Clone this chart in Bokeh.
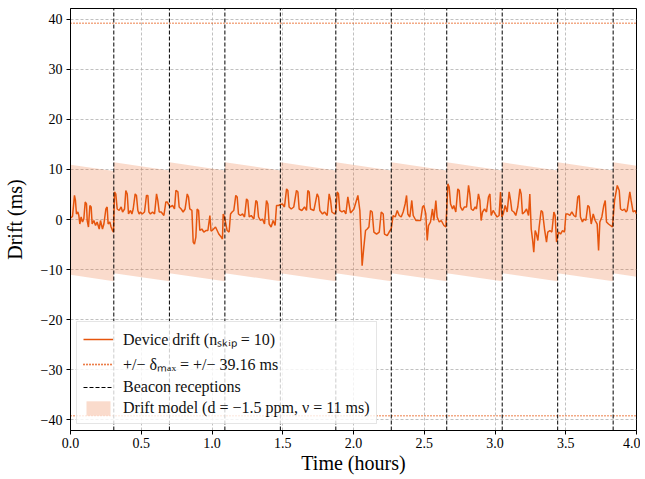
from bokeh.plotting import figure
from bokeh.models import FixedTicker, Legend, LegendItem, NumeralTickFormatter
from bokeh.embed import file_html
from bokeh.resources import INLINE

# ---------------- data ----------------
# device drift (ms) vs time (hours), one list pair per beacon interval
t_seg0 = [0.000, 0.014, 0.028, 0.035, 0.042, 0.052, 0.059, 0.066, 0.075, 0.085,
          0.094, 0.104, 0.113, 0.118, 0.127, 0.137, 0.146, 0.153, 0.165, 0.177,
          0.188, 0.203, 0.212, 0.226, 0.236, 0.250, 0.259, 0.266, 0.278, 0.287,
          0.297, 0.304]
d_seg0 = [0.3, 0.6, 4.8, 3.8, 1.1, 1.5, 0.8, -0.9, 0.5, -0.5,
          0.1, 3.5, 3.1, -0.2, -1.5, 2.8, 2.5, -0.9, -0.2, -1.2,
          -0.5, -1.9, -0.2, -1.9, -0.9, 2.1, 2.5, -0.9, -0.5, -1.5,
          -2.2, -2.5]

t_seg1 = [0.311, 0.320, 0.330, 0.344, 0.358, 0.368, 0.382, 0.391, 0.401, 0.410,
          0.424, 0.434, 0.443, 0.457, 0.466, 0.476, 0.485, 0.495, 0.507, 0.523,
          0.537, 0.547, 0.554, 0.565, 0.580, 0.594, 0.608, 0.617, 0.627, 0.641,
          0.660, 0.674, 0.683, 0.697]
d_seg1 = [5.5, 5.1, 2.1, 1.8, 2.5, 1.5, 2.1, 5.8, 5.1, 1.1,
          1.8, 1.1, 2.1, 5.1, 4.8, 1.8, 1.1, 1.5, 1.1, 1.5,
          4.8, 4.8, 1.5, 1.1, 1.5, 1.1, 5.1, 3.8, 1.5, 1.5,
          0.8, 3.5, 3.5, 2.8]

t_seg2 = [0.707, 0.721, 0.735, 0.745, 0.759, 0.768, 0.782, 0.796, 0.810, 0.825,
          0.834, 0.843, 0.858, 0.867, 0.876, 0.886, 0.895, 0.905, 0.914, 0.928,
          0.942, 0.957, 0.971, 0.985, 0.993, 1.001, 1.025, 1.048, 1.065, 1.074,
          1.079, 1.088]
d_seg2 = [2.5, 2.8, 2.1, 5.8, 5.5, 2.5, 2.1, 1.5, 2.1, 5.1,
          4.5, 2.1, 1.8, -4.5, -4.9, -3.5, 2.1, 1.8, -2.2, -1.9,
          -2.5, -2.2, -2.2, 0.8, -2.3, -2.2, -1.5, -2.9, -3.5, -3.9,
          1.1, 0.5]

t_seg3 = [1.107, 1.121, 1.131, 1.142, 1.154, 1.168, 1.178, 1.187, 1.201, 1.216,
          1.230, 1.244, 1.253, 1.263, 1.277, 1.296, 1.310, 1.319, 1.329, 1.343,
          1.357, 1.371, 1.385, 1.395, 1.404, 1.418, 1.432, 1.446, 1.456, 1.470]
d_seg3 = [-2.2, -2.5, 1.1, 1.5, 1.8, 4.8, 4.5, 1.1, 0.8, 1.1,
          0.5, 4.1, 3.8, 0.5, 0.8, 0.1, 3.8, 3.5, 0.5, -0.2,
          0.1, -0.9, 3.8, 3.1, -0.9, -1.5, -0.2, -1.2, 2.8, 2.8]

t_seg4 = [1.484, 1.498, 1.512, 1.527, 1.536, 1.545, 1.560, 1.578, 1.597, 1.607,
          1.616, 1.635, 1.654, 1.668, 1.677, 1.687, 1.696, 1.720, 1.743, 1.753,
          1.762, 1.781, 1.795, 1.814, 1.828, 1.838, 1.847, 1.866]
d_seg4 = [3.0, 3.1, 2.5, 6.1, 5.8, 2.5, 2.1, 2.5, 5.8, 5.5,
          2.1, 1.8, 2.5, 1.8, 5.8, 5.5, 2.1, 1.8, 5.1, 4.5,
          1.8, 1.1, 1.5, 0.8, 5.1, 3.8, 1.5, 1.1]

t_seg5 = [1.875, 1.885, 1.894, 1.903, 1.918, 1.932, 1.946, 1.960, 1.979, 2.003,
          2.031, 2.045, 2.054, 2.061, 2.073, 2.085, 2.097, 2.109, 2.120, 2.132,
          2.144, 2.163, 2.182, 2.196, 2.210, 2.219, 2.238, 2.252, 2.266]
d_seg5 = [1.5, 5.5, 5.1, 1.8, 1.5, 1.8, 1.1, 4.5, 1.3, 2.1,
          4.8, 1.8, -4.2, -9.2, -5.5, -2.2, -1.9, -1.5, 1.8, 1.5,
          -2.5, -2.9, -2.5, 1.5, 1.1, -2.9, -3.2, -2.5, -1.9]

t_seg6 = [2.280, 2.295, 2.309, 2.323, 2.337, 2.351, 2.365, 2.375, 2.384, 2.398,
          2.412, 2.422, 2.441, 2.460, 2.474, 2.488, 2.497, 2.511, 2.521, 2.530,
          2.544, 2.558, 2.568, 2.582, 2.591, 2.606, 2.620, 2.639, 2.653]
d_seg6 = [0.8, 0.5, 1.8, 0.8, 0.5, 1.5, 3.1, 4.8, 1.1, 0.5,
          3.8, 0.8, -0.2, -0.2, -0.2, 2.5, 2.8, 1.1, -4.2, -1.2,
          -0.5, 2.1, -0.2, 3.8, 0.5, -0.5, -0.2, -1.2, -1.5]

t_seg7 = [2.667, 2.676, 2.686, 2.700, 2.709, 2.723, 2.737, 2.747, 2.756, 2.770,
          2.784, 2.799, 2.813, 2.822, 2.832, 2.846, 2.860, 2.869, 2.883, 2.893,
          2.902, 2.912, 2.926, 2.940, 2.954, 2.964, 2.973, 2.987, 3.001, 3.015,
          3.029, 3.039, 3.048]
d_seg7 = [7.1, 6.5, 3.1, 2.1, 2.8, 1.5, 6.1, 5.8, 2.5, 1.8,
          2.5, 2.5, 6.8, 5.1, 2.1, 1.8, 2.5, 2.1, 5.1, 3.8,
          -0.2, 1.5, 2.1, 1.5, 4.5, 5.1, 0.8, 1.8, 1.1, 0.5,
          0.8, 5.5, 0.5]

t_seg8 = [3.058, 3.072, 3.086, 3.100, 3.110, 3.119, 3.133, 3.147, 3.161, 3.176,
          3.185, 3.194, 3.209, 3.223, 3.237, 3.246, 3.256, 3.265, 3.274, 3.284,
          3.293, 3.303, 3.312, 3.326, 3.336, 3.350, 3.364, 3.373, 3.388, 3.402,
          3.416, 3.425, 3.435]
d_seg8 = [1.1, 2.8, 1.5, 5.5, 3.8, 1.8, 1.5, 0.8, 2.5, 6.1,
          5.1, 1.1, 1.5, 2.1, 0.8, 5.1, -1.9, -3.9, -6.5, -2.2,
          -2.9, -4.2, -1.5, 1.8, 1.5, -1.9, -4.5, -2.5, -2.2, -2.5,
          1.5, 0.8, -4.5]

t_seg9 = [3.449, 3.463, 3.477, 3.491, 3.501, 3.515, 3.529, 3.543, 3.557, 3.571,
          3.585, 3.595, 3.604, 3.618, 3.628, 3.642, 3.656, 3.666, 3.680, 3.694,
          3.708, 3.722, 3.732, 3.741, 3.755, 3.769, 3.779, 3.788, 3.802, 3.816,
          3.830]
d_seg9 = [-2.5, -2.9, -2.2, -2.5, 1.1, 1.1, 0.8, 1.5, 0.8, 0.5,
          4.5, 4.8, 0.5, -0.5, 0.1, -0.2, 2.8, 2.5, -0.9, 1.1,
          -0.2, -0.9, -6.2, -0.5, 0.5, 2.8, 3.8, -0.5, -0.9, -1.2,
          -1.5]

t_seg10 = [3.845, 3.864, 3.878, 3.887, 3.901, 3.915, 3.925, 3.934, 3.953, 3.962,
           3.976, 3.990, 4.000]
d_seg10 = [3.8, 6.8, 5.8, 2.1, 1.8, 2.1, 1.5, 1.8, 5.5, 3.8,
           1.5, 1.8, 1.1]

# beacon reception times (hours)
beacon_h = [0.306, 0.699, 1.091, 1.483, 1.875, 2.267, 2.659, 3.051, 3.443, 3.835]
t_end_h = 4.0

# drift model band per beacon interval (ms at interval start / end)
band_top_start = [10.9, 11.4, 11.4, 11.4, 11.4, 11.4, 11.4, 11.4, 11.4, 11.4, 11.4]
band_top_end = [9.7, 9.8, 9.8, 9.8, 9.8, 9.8, 9.8, 9.8, 9.8, 9.8, 10.7]
band_bot_start = [-11.0, -10.7, -10.7, -10.7, -10.7, -10.7, -10.7, -10.7, -10.7, -10.7, -10.7]
band_bot_end = [-12.3, -12.3, -12.3, -12.3, -12.3, -12.3, -12.3, -12.3, -12.3, -12.3, -11.4]

delta_max_ms = 39.16
y_limit = 42.1

x_ticks = [0.0, 0.5, 1.0, 1.5, 2.0, 2.5, 3.0, 3.5, 4.0]
y_ticks = [-40, -30, -20, -10, 0, 10, 20, 30, 40]
y_tick_labels = ["\u221240", "\u221230", "\u221220", "\u221210", "0", "10", "20", "30", "40"]

legend_labels = [
    "Device drift (n\u209b\u2096\u1d62\u209a = 10)",
    "+/\u2212 \u03b4\u2098\u2090\u2093 = +/\u2212 39.16 ms",
    "Beacon receptions",
    "Drift model (d = \u22121.5 ppm, \u03bd = 11 ms)",
]

# ---------------- assemble ----------------
t_all = (t_seg0 + t_seg1 + t_seg2 + t_seg3 + t_seg4 + t_seg5 + t_seg6 + t_seg7
         + t_seg8 + t_seg9 + t_seg10)
d_all = (d_seg0 + d_seg1 + d_seg2 + d_seg3 + d_seg4 + d_seg5 + d_seg6 + d_seg7
         + d_seg8 + d_seg9 + d_seg10)

seg_start = [0.0] + beacon_h
seg_end = beacon_h + [t_end_h]
band_x, band_lo, band_hi = [], [], []
for s, e, ts, te, bs, be in zip(seg_start, seg_end, band_top_start, band_top_end,
                                band_bot_start, band_bot_end):
    band_x += [s, e]
    band_hi += [ts, te]
    band_lo += [bs, be]

ORANGE = "#e6550d"
FONT = "Liberation Serif"

p = figure(width=640, height=476, x_range=(0, t_end_h), y_range=(-y_limit, y_limit),
           output_backend="svg", toolbar_location=None,
           min_border_left=70, min_border_right=4, min_border_top=8, min_border_bottom=46)

p.background_fill_color = "white"
p.border_fill_color = "white"
p.outline_line_color = "black"
p.outline_line_width = 1
p.outline_line_alpha = 1

band_r = p.varea(x=band_x, y1=band_lo, y2=band_hi, fill_color=ORANGE, fill_alpha=0.21)
drift_r = p.line(t_all, d_all, line_color=ORANGE, line_width=1.5)
up_r = p.line([0, t_end_h], [delta_max_ms, delta_max_ms], line_color=ORANGE,
              line_width=1.4, line_dash="1 2")
lo_r = p.line([0, t_end_h], [-delta_max_ms, -delta_max_ms], line_color=ORANGE,
              line_width=1.4, line_dash="1 2")
beacon_r = p.segment(x0=beacon_h, y0=[-y_limit] * len(beacon_h),
                     x1=beacon_h, y1=[y_limit] * len(beacon_h),
                     line_color="black", line_width=1, line_dash="4 2")

# axes / grid
p.xaxis.ticker = FixedTicker(ticks=x_ticks)
p.yaxis.ticker = FixedTicker(ticks=y_ticks)
p.xaxis.formatter = NumeralTickFormatter(format="0.0")
p.yaxis.major_label_overrides = {v: s for v, s in zip(y_ticks, y_tick_labels)}
for ax in (p.xaxis, p.yaxis):
    ax.minor_tick_line_color = None
    ax.major_tick_in = 0
    ax.major_tick_out = 4
    ax.major_tick_line_color = "black"
    ax.axis_line_color = "black"
    ax.major_label_text_font = FONT
    ax.major_label_text_font_size = "14px"
    ax.major_label_text_color = "black"
    ax.axis_label_text_font = FONT
    ax.axis_label_text_font_size = "20px"
    ax.axis_label_text_font_style = "normal"
    ax.axis_label_text_color = "black"
    ax.major_label_standoff = 4
p.xaxis.major_label_standoff = 3
p.xaxis.axis_label = "Time (hours)"
p.yaxis.axis_label = "Drift (ms)"
p.xaxis.axis_label_standoff = 1
p.yaxis.axis_label_standoff = 12

for g in (p.xgrid, p.ygrid):
    g.grid_line_color = "#b0b0b0"
    g.grid_line_dash = "3 2"
    g.grid_line_width = 0.8
p.xgrid.ticker = FixedTicker(ticks=x_ticks)
p.ygrid.ticker = FixedTicker(ticks=y_ticks)

legend = Legend(items=[
    LegendItem(label=legend_labels[0], renderers=[drift_r]),
    LegendItem(label=legend_labels[1], renderers=[up_r, lo_r]),
    LegendItem(label=legend_labels[2], renderers=[beacon_r]),
    LegendItem(label=legend_labels[3], renderers=[band_r]),
], location="bottom_left")
legend.label_text_font = FONT
legend.label_text_font_size = "16px"
legend.label_text_color = "#111111"
legend.glyph_width = 30
legend.glyph_height = 18
legend.label_height = 18
legend.label_standoff = 10
legend.spacing = 3
legend.padding = 6
legend.margin = 6
legend.border_line_color = "#cccccc"
legend.border_line_width = 1
legend.background_fill_color = "white"
legend.background_fill_alpha = 0.8
p.add_layout(legend)

open("out.html", "w").write(file_html(p, INLINE))
